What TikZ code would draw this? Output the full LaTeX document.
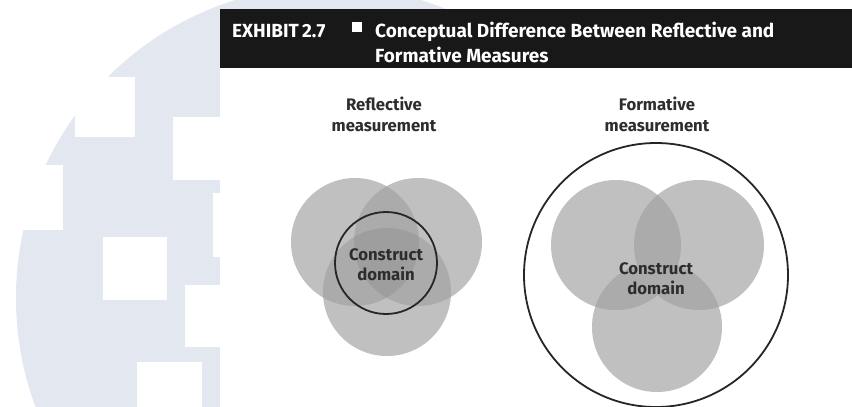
\documentclass[tikz,border=0pt]{standalone}
\usepackage{fontspec}
\setmainfont{Fira Sans}

\definecolor{wmblue}{RGB}{227,231,240}
\definecolor{barblack}{RGB}{24,24,24}
\definecolor{labelgray}{RGB}{45,45,45}
\definecolor{onegray}{RGB}{192,192,192}
\definecolor{twogray}{RGB}{171,171,171}
\definecolor{threegray}{RGB}{158,158,158}

\tikzset{
    setdisc/.style={fill=onegray},
    lens/.style={fill=twogray},
    core/.style={fill=threegray},
    domainring/.style={draw=black!85,line width=1.8pt},
    heading/.style={text=white,font=\bfseries\fontsize{19}{21}\selectfont,anchor=base west,inner sep=0pt},
    caption/.style={text=labelgray,font=\bfseries\fontsize{16.7}{21}\selectfont,align=center,inner sep=0pt},
    domaintext/.style={text=labelgray,font=\bfseries\fontsize{16.7}{20}\selectfont,align=center,inner sep=0pt},
}

\begin{document}
\begin{tikzpicture}[x=1pt,y=-1pt]
    \useasboundingbox (0,0) rectangle (852,407);

    % logo in the page background
    \begin{scope}
        \clip (0,0) rectangle (852,407);
        \fill[wmblue] (328,298) circle [radius=312];
        \fill[white] (0,165) rectangle (63,230);
        \fill[white] (75,77) rectangle (135,137);
        \fill[white] (173,117) rectangle (236,180);
        \fill[white] (213,193) rectangle (276,257);
        \fill[white] (103,237) rectangle (167,300);
        \fill[white] (185,285) rectangle (248,347);
        \fill[white] (137,362) rectangle (202,425);
    \end{scope}

    % exhibit panel and title bar
    \fill[white] (220,9) rectangle (852,407);
    \fill[barblack] (220,9) rectangle (852,68);
    \node[heading] (exhibit) at (232,37) {EXHIBIT\,2.7};
    \fill[white] (352,22) rectangle (362,32);
    \node[heading] (title) at (375,37) {Conceptual Difference Between Reflective and};
    \node[heading] (title2) at (375,62) {Formative Measures};

    % reflective: the construct sits inside the overlap
    \coordinate (rtl) at (355,242);
    \coordinate (rtr) at (418,242);
    \coordinate (rb) at (387,292);
    \fill[setdisc] (rtl) circle [radius=64];
    \fill[setdisc] (rtr) circle [radius=64];
    \fill[setdisc] (rb) circle [radius=64];
    \begin{scope}
        \clip (rtl) circle [radius=64];
        \fill[lens] (rtr) circle [radius=64];
        \fill[lens] (rb) circle [radius=64];
    \end{scope}
    \begin{scope}
        \clip (rtr) circle [radius=64];
        \fill[lens] (rb) circle [radius=64];
    \end{scope}
    \begin{scope}
        \clip (rtl) circle [radius=64];
        \clip (rtr) circle [radius=64];
        \fill[core] (rb) circle [radius=64];
    \end{scope}
    \node[domainring,circle,minimum size=102pt] (rdomain) at (386,263) {};
    \node[domaintext] (rtext) at (386,265) {Construct\\domain};
    \node[caption] (rcap) at (384,114) {Reflective\\measurement};

    % formative: the construct is made of all the parts
    \coordinate (ftl) at (616,245);
    \coordinate (ftr) at (699,245);
    \coordinate (fb) at (657,327);
    \fill[setdisc] (ftl) circle [radius=65];
    \fill[setdisc] (ftr) circle [radius=65];
    \fill[setdisc] (fb) circle [radius=65];
    \begin{scope}
        \clip (ftl) circle [radius=65];
        \fill[lens] (ftr) circle [radius=65];
        \fill[lens] (fb) circle [radius=65];
    \end{scope}
    \begin{scope}
        \clip (ftr) circle [radius=65];
        \fill[lens] (fb) circle [radius=65];
    \end{scope}
    \node[domainring,circle,minimum size=264pt] (fdomain) at (656,275) {};
    \node[domaintext] (ftext) at (656,279) {Construct\\domain};
    \node[caption] (fcap) at (657,114) {Formative\\measurement};
\end{tikzpicture}
\end{document}
